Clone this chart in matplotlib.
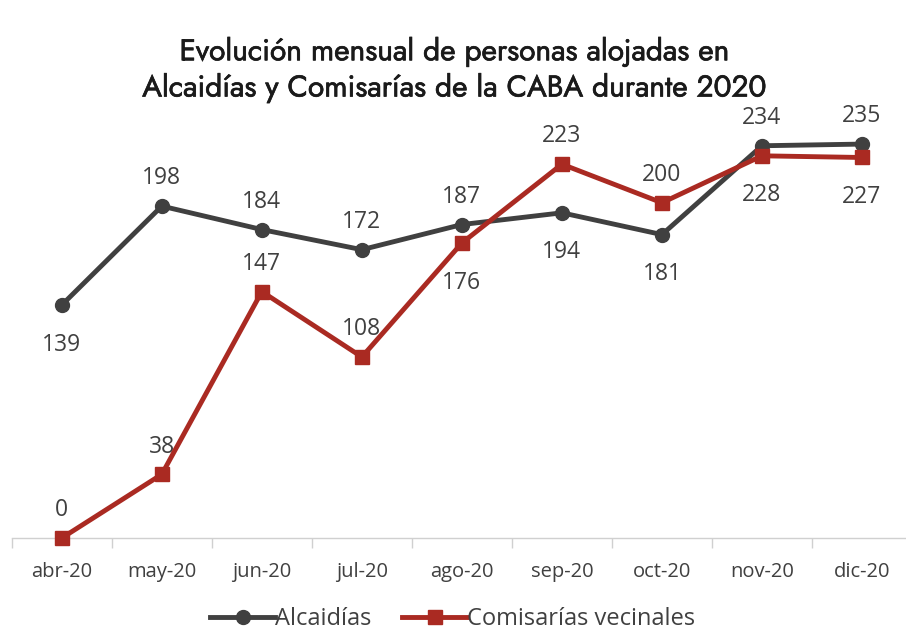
import matplotlib
matplotlib.use("Agg")
import matplotlib.pyplot as plt
import matplotlib.patheffects as pe

months = ["abr-20", "may-20", "jun-20", "jul-20", "ago-20", "sep-20", "oct-20", "nov-20", "dic-20"]
alcaidias = [139, 198, 184, 172, 187, 194, 181, 234, 235]
comisarias = [0, 38, 147, 108, 176, 223, 200, 228, 227]
alc_pos = ["below", "above", "above", "above", "above", "below", "below", "above", "above"]
com_pos = ["above", "above", "above", "above", "below", "above", "above", "below", "below"]

plt.rcParams['font.family'] = ['Open Sans', 'Noto Sans', 'DejaVu Sans']
gray = "#404040"
red = "#AA2A22"
txt = "#404040"

fig = plt.figure(figsize=(9.06, 6.34), dpi=100)
ax = fig.add_axes([0.013, 0.1514, 0.987, 0.661])
x = list(range(len(months)))
ax.plot(x, alcaidias, color=gray, lw=3.5, marker='o', ms=10, label="Alcaidías", zorder=3)
ax.plot(x, comisarias, color=red, lw=3.5, marker='s', ms=10, label="Comisarías vecinales", zorder=4)

for xi, v, p in zip(x, alcaidias, alc_pos):
    off = 20 if p == "above" else -28.5
    ax.annotate(str(v), (xi, v), xytext=(0, off), textcoords='offset points',
                ha='center', va='center', fontsize=16.5, color=txt)
for xi, v, p in zip(x, comisarias, com_pos):
    off = 20 if p == "above" else -28.5
    ax.annotate(str(v), (xi, v), xytext=(0, off), textcoords='offset points',
                ha='center', va='center', fontsize=16.5, color=txt)

ax.set_xlim(-0.5, 8.44)
ax.set_ylim(0, 250)
ax.set_xticks([i - 0.5 for i in range(9)], minor=False)
ax.set_xticklabels([])
ax.set_xticks(x, minor=True)
ax.set_xticklabels(months, minor=True, fontsize=14.5, color=txt)
ax.tick_params(axis='x', which='major', length=7, color="#D0D0D0", width=1)
ax.tick_params(axis='x', which='minor', length=0, pad=17)
ax.set_yticks([])
for s in ["top", "right", "left"]:
    ax.spines[s].set_visible(False)
ax.spines["bottom"].set_color("#D0D0D0")
ax.spines["bottom"].set_linewidth(1)
ax.spines["bottom"].set_zorder(1)
for l in ax.lines:
    l.set_clip_on(False)

title = fig.text(0.502, 0.889, "Evolución mensual de personas alojadas en\nAlcaidías y Comisarías de la CABA durante 2020",
                 ha='center', va='center', fontsize=21.5, color="#1a1a1a", linespacing=1.27,
                 family=['Jost', 'Lato', 'DejaVu Sans'])
title.set_path_effects([pe.withStroke(linewidth=0.5, foreground="#1a1a1a")])

fig.legend(loc='center', bbox_to_anchor=(0.5, 0.023), ncol=2, frameon=False, fontsize=17,
           labelcolor=txt, handlelength=2.75, handletextpad=0.0, columnspacing=1.3, borderpad=0.1)

fig.savefig("out.png", dpi=100)
